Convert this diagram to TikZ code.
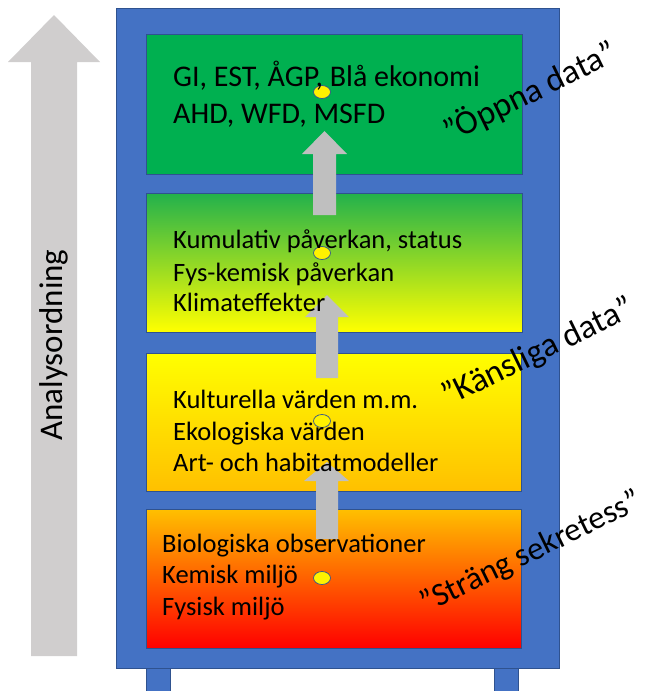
\documentclass[tikz,border=0pt]{standalone}
\usepackage{fontspec}
\setmainfont{Carlito}
\usetikzlibrary{positioning, shapes.geometric}
\definecolor{cabblue}{HTML}{4472C4}
\definecolor{cabedge}{HTML}{2F528F}
\definecolor{topgreen}{HTML}{00B050}
\definecolor{midgreen}{HTML}{22B14C}
\definecolor{amber}{HTML}{FFC000}
\definecolor{arrowgray}{HTML}{BFBFBF}
\definecolor{biggray}{HTML}{D0CECE}
\tikzset{
	shelf/.style={draw=cabedge, line width=0.6pt},
	shelftext/.style={anchor=base west, inner sep=0pt, font=\fontsize{26.5}{30}\selectfont},
	sidelabel/.style={rotate=26, inner sep=0pt, font=\fontsize{34}{38}\selectfont},
	dot/.style={ellipse, draw=cabedge, fill=yellow, line width=0.7pt, minimum width=17pt, minimum height=13pt, inner sep=0pt}
}

\begin{document}
\begin{tikzpicture}[x=1pt, y=-1pt]
		\useasboundingbox (0,0) rectangle (651,691);
		% Analysis arrow
		\draw[fill=biggray, draw=none] plot coordinates
			{(31,656) (31,62) (8,62) (54,15) (100,62) (77,62) (77,656) (31,656)};
		\node[rotate=90, inner sep=0pt, font=\fontsize{33}{36}\selectfont] (order) at (54,345) {Analysordning};
		% Legs
		\draw[fill=cabblue, draw=cabedge] (146,660) rectangle (170,695);
		\draw[fill=cabblue, draw=cabedge] (494,660) rectangle (518,695);
		% Cabinet
		\draw[fill=cabblue, draw=cabedge, line width=0.6pt] (116,8) rectangle (559,668);
		% Shelves
		\draw[shelf, fill=topgreen] (146,34) rectangle (522,174);
		\draw[shelf, top color=midgreen, bottom color=yellow] (146,193) rectangle (522,332);
		\draw[shelf, top color=yellow, bottom color=amber] (146,353) rectangle (521,491);
		\draw[shelf, top color=amber, middle color=orange!90!red, bottom color=red] (146,509) rectangle (521,648);
		% Dots
		\node[dot] (d1) at (322,92) {};
		\node[dot] (d2) at (322,253) {};
		\node[dot] (d3) at (322,421) {};
		\node[dot] (d4) at (322,578) {};
		% Step arrows
		\draw[fill=arrowgray, draw=none] plot coordinates
			{(313,215) (313,154) (302,154) (324.5,131) (347,154) (336,154) (336,215) (313,215)};
		\draw[fill=arrowgray, draw=none] plot coordinates
			{(316,378) (316,317) (305,317) (327,295) (349,317) (338,317) (338,378) (316,378)};
		\draw[fill=arrowgray, draw=none] plot coordinates
			{(316,539) (316,481) (304,481) (327,462) (349,481) (338,481) (338,539) (316,539)};
		% Shelf texts
		\node[shelftext, font=\fontsize{30}{34}\selectfont] (g1) at (173,86) {GI, EST, ÅGP, Blå ekonomi};
		\node[shelftext, font=\fontsize{30}{34}\selectfont] (g2) at (173,123) {AHD, WFD, MSFD};
		\node[shelftext] (p1) at (173,248) {Kumulativ påverkan, status};
		\node[shelftext] (p2) at (173,281) {Fys-kemisk påverkan};
		\node[shelftext] (p3) at (173,311) {Klimateffekter};
		\node[shelftext] (v1) at (173,408) {Kulturella värden m.m.};
		\node[shelftext] (v2) at (173,440) {Ekologiska värden};
		\node[shelftext] (v3) at (173,471) {Art- och habitatmodeller};
		\node[shelftext] (b1) at (162,552) {Biologiska observationer};
		\node[shelftext] (b2) at (162,583) {Kemisk miljö};
		\node[shelftext] (b3) at (162,615) {Fysisk miljö};
		% Side labels
		\node[sidelabel] (open) at (530,92) {”Öppna data”};
		\node[sidelabel] (sens) at (538,353) {”Känsliga data”};
		\node[sidelabel, font=\fontsize{32.5}{36}\selectfont] (secret) at (531,553) {”Sträng sekretess”};
	\end{tikzpicture}
\end{document}
